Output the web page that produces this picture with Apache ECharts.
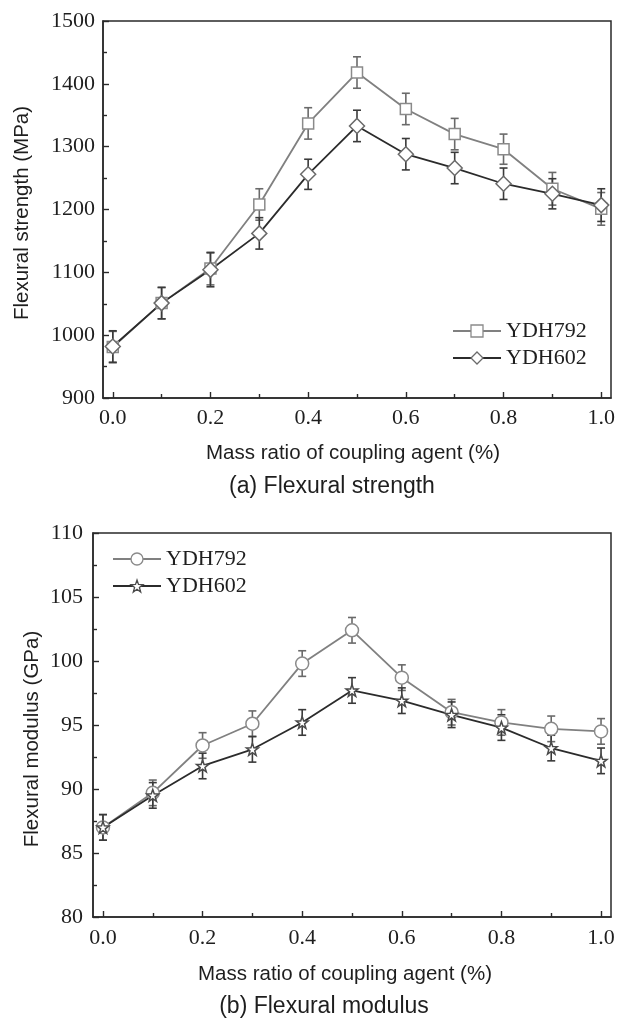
<!DOCTYPE html>
<html>
<head>
<meta charset="utf-8">
<title>Flexural strength and modulus</title>
<script src="https://cdn.jsdelivr.net/npm/echarts@6/dist/echarts.min.js"></script>
<style>
  html, body { margin: 0; padding: 0; background: #fff; }
  #main { width: 618px; height: 1018px; }
</style>
</head>
<body>
<div id="main"></div>
<script>
// mass ratio of coupling agent (%)
var ratio = [0, 0.1, 0.2, 0.3, 0.4, 0.5, 0.6, 0.7, 0.8, 0.9, 1.0];
var xMajorTicks = [0, 0.2, 0.4, 0.6, 0.8, 1.0];
var xMinorTicks = [0.1, 0.3, 0.5, 0.7, 0.9];

// (a) flexural strength, MPa
var strength792 = [981, 1051, 1106, 1208, 1337, 1418, 1360, 1320, 1296, 1233, 1201];
var strength792Err = [25, 25, 26, 25, 25, 25, 25, 25, 24, 26, 26];
var strength602 = [982, 1051, 1104, 1162, 1256, 1333, 1288, 1266, 1241, 1225, 1207];
var strength602Err = [25, 25, 27, 25, 24, 25, 25, 25, 25, 24, 26];

// (b) flexural modulus, GPa
var modulus792 = [87.0, 89.7, 93.4, 95.1, 99.8, 102.4, 98.7, 96.0, 95.2, 94.7, 94.5];
var modulus792Err = [1.0, 1.0, 1.0, 1.0, 1.0, 1.0, 1.0, 1.0, 1.0, 1.0, 1.0];
var modulus602 = [87.0, 89.5, 91.8, 93.1, 95.2, 97.7, 96.9, 95.8, 94.8, 93.2, 92.2];
var modulus602Err = [1.0, 1.0, 1.0, 1.0, 1.0, 1.0, 1.0, 1.0, 1.0, 1.0, 1.0];

var LIGHT = '#808080';
var DARK = '#2b2b2b';
var AXIS = '#2a2a2a';
var SERIF = '"Liberation Serif", "Times New Roman", serif';
var SANS = '"Liberation Sans", Arial, sans-serif';
var STAR = 'path://M0,-10L2.35,-3.24L9.51,-3.09L3.8,1.24L5.88,8.09L0,4L-5.88,8.09L-3.8,1.24L-9.51,-3.09L-2.35,-3.24Z';

function pairs(values){
  return ratio.map(function(x, i){ return [x, values[i]]; });
}
function errData(values, errs){
  return ratio.map(function(x, i){ return [x, values[i] - errs[i], values[i] + errs[i]]; });
}
function errRender(color){
  return function(params, api){
    var top = api.coord([api.value(0), api.value(2)]);
    var bot = api.coord([api.value(0), api.value(1)]);
    var w = 4;
    var st = { stroke: color, lineWidth: 1.6, fill: null };
    return {
      type: 'group',
      children: [
        { type: 'line', shape: { x1: top[0], y1: top[1], x2: bot[0], y2: bot[1] }, style: st },
        { type: 'line', shape: { x1: top[0] - w, y1: top[1], x2: top[0] + w, y2: top[1] }, style: st },
        { type: 'line', shape: { x1: bot[0] - w, y1: bot[1], x2: bot[0] + w, y2: bot[1] }, style: st }
      ]
    };
  };
}

function mainX(grid, margin){
  return {
    type: 'value', gridIndex: grid, min: -0.02, max: 1.02, position: 'bottom',
    axisLine: { show: true, onZero: false, lineStyle: { color: AXIS, width: 1.5 } },
    axisTick: { show: true, inside: true, length: 6, customValues: xMajorTicks, lineStyle: { color: AXIS, width: 1.4 } },
    axisLabel: { customValues: xMajorTicks, margin: margin, color: '#1e1e1e', fontFamily: SERIF, fontSize: 22,
      formatter: function(v){ return v.toFixed(1); } },
    splitLine: { show: false }
  };
}
function minorX(grid){
  return {
    type: 'value', gridIndex: grid, min: -0.02, max: 1.02, position: 'bottom',
    axisLine: { show: false, onZero: false },
    axisTick: { show: true, inside: true, length: 4, customValues: xMinorTicks, lineStyle: { color: AXIS, width: 1.4 } },
    axisLabel: { show: false },
    splitLine: { show: false }
  };
}
function valueY(grid, min, max, interval, margin){
  return {
    type: 'value', gridIndex: grid, min: min, max: max, interval: interval,
    axisLine: { show: true, onZero: false, lineStyle: { color: AXIS, width: 1.5 } },
    axisTick: { show: true, inside: true, length: 6, lineStyle: { color: AXIS, width: 1.4 } },
    minorTick: { show: true, splitNumber: 2, length: 4, lineStyle: { color: AXIS, width: 1.4 } },
    axisLabel: { margin: margin, color: '#1e1e1e', fontFamily: SERIF, fontSize: 22,
      formatter: function(v){ return String(v); } },
    splitLine: { show: false }
  };
}
function lineSeries(name, x, y, values, symbol, size, lineColor, markColor){
  return {
    name: name, type: 'line', xAxisIndex: x, yAxisIndex: y, z: 3,
    data: pairs(values), symbol: symbol, symbolSize: size,
    lineStyle: { color: lineColor, width: 1.8 },
    itemStyle: { color: '#fff', borderColor: markColor, borderWidth: 1.5 }
  };
}
function errSeries(x, y, values, errs, color){
  return {
    type: 'custom', xAxisIndex: x, yAxisIndex: y, z: 2,
    renderItem: errRender(color),
    encode: { x: 0, y: [1, 2] },
    data: errData(values, errs)
  };
}
function legendItem(name, markColor){
  return { name: name, itemStyle: { color: '#fff', borderColor: markColor, borderWidth: 1.3 } };
}
function legendOpt(left, top, items){
  return {
    left: left, top: top, orient: 'vertical', data: items, padding: 0,
    itemWidth: 48, itemHeight: 15, itemGap: 5,
    textStyle: { fontFamily: SERIF, fontSize: 22, color: '#1e1e1e' },
    formatter: function(n){ return n.split('|')[1]; }
  };
}

var chart = echarts.init(document.getElementById('main'), null, { renderer: 'canvas' });
chart.setOption({
  backgroundColor: '#fff',
  animation: false,
  grid: [
    { left: 103, top: 21, width: 508, height: 377, show: true, borderColor: AXIS, borderWidth: 1.5 },
    { left: 93, top: 533, width: 518, height: 384, show: true, borderColor: AXIS, borderWidth: 1.5 }
  ],
  xAxis: [mainX(0, 9), minorX(0), mainX(1, 10), minorX(1)],
  yAxis: [valueY(0, 900, 1500, 100, 8), valueY(1, 80, 110, 5, 10)],
  legend: [
    legendOpt(452, 320, [legendItem('a|YDH792', '#8a8a8a'), legendItem('a|YDH602', '#6a6a6a')]),
    legendOpt(112, 548, [legendItem('b|YDH792', '#8a8a8a'), legendItem('b|YDH602', '#4a4a4a')])
  ],
  series: [
    errSeries(0, 0, strength792, strength792Err, '#6a6a6a'),
    errSeries(0, 0, strength602, strength602Err, '#3a3a3a'),
    lineSeries('a|YDH792', 0, 0, strength792, 'rect', 11, LIGHT, '#8a8a8a'),
    lineSeries('a|YDH602', 0, 0, strength602, 'diamond', 15, DARK, '#6a6a6a'),
    errSeries(2, 1, modulus792, modulus792Err, '#6a6a6a'),
    errSeries(2, 1, modulus602, modulus602Err, '#3a3a3a'),
    lineSeries('b|YDH792', 2, 1, modulus792, 'circle', 13, LIGHT, '#8a8a8a'),
    lineSeries('b|YDH602', 2, 1, modulus602, STAR, 12, DARK, '#4a4a4a')
  ],
  graphic: [
    { type: 'text', x: 22, y: 213, rotation: Math.PI / 2,
      style: { text: 'Flexural strength (MPa)', font: '20.5px ' + SANS, fill: '#1e1e1e', align: 'center', verticalAlign: 'middle' } },
    { type: 'text', x: 353, y: 453,
      style: { text: 'Mass ratio of coupling agent (%)', font: '20.5px ' + SANS, fill: '#1e1e1e', align: 'center', verticalAlign: 'middle' } },
    { type: 'text', x: 332, y: 487,
      style: { text: '(a) Flexural strength', font: '23px ' + SANS, fill: '#1e1e1e', align: 'center', verticalAlign: 'middle' } },
    { type: 'text', x: 32, y: 739, rotation: Math.PI / 2,
      style: { text: 'Flexural modulus (GPa)', font: '20.5px ' + SANS, fill: '#1e1e1e', align: 'center', verticalAlign: 'middle' } },
    { type: 'text', x: 345, y: 974,
      style: { text: 'Mass ratio of coupling agent (%)', font: '20.5px ' + SANS, fill: '#1e1e1e', align: 'center', verticalAlign: 'middle' } },
    { type: 'text', x: 324, y: 1007,
      style: { text: '(b) Flexural modulus', font: '23px ' + SANS, fill: '#1e1e1e', align: 'center', verticalAlign: 'middle' } }
  ]
});
</script>
</body>
</html>
